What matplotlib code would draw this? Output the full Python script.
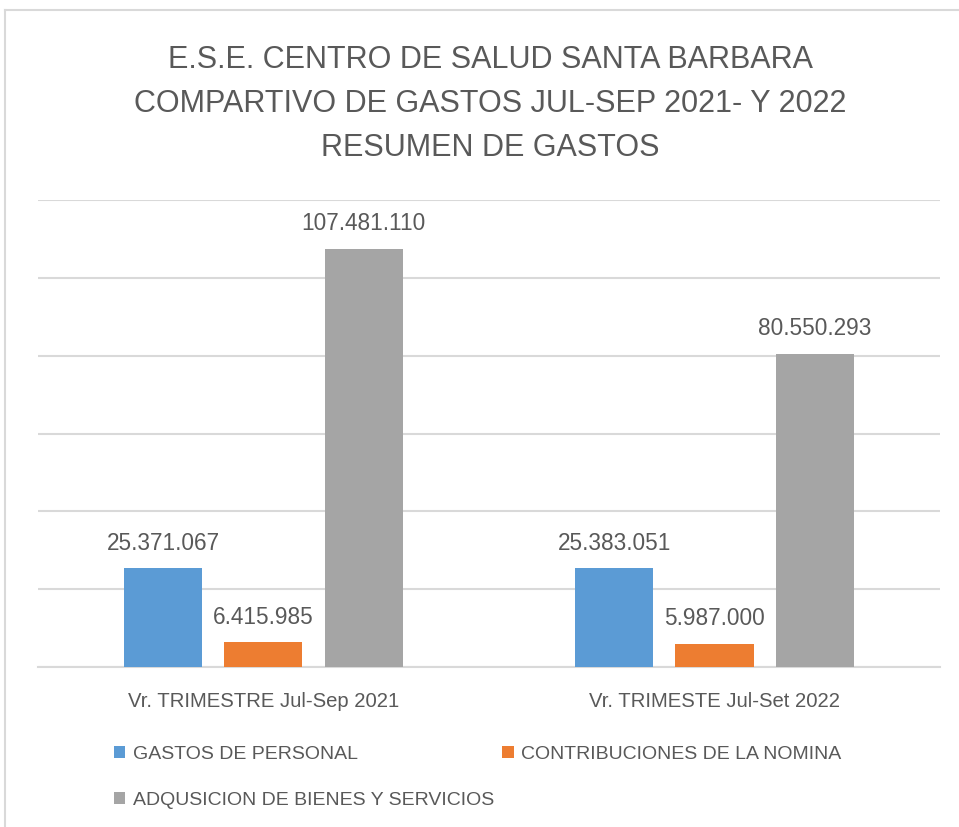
import matplotlib.pyplot as plt
from matplotlib.lines import Line2D
import numpy as np

plt.rcParams['font.family'] = ['Liberation Sans', 'DejaVu Sans']

TITLE_LINES = ["E.S.E. CENTRO DE SALUD SANTA BARBARA",
               "COMPARTIVO DE GASTOS JUL-SEP 2021- Y 2022",
               "RESUMEN DE GASTOS"]
PERIODS = ["Vr. TRIMESTRE Jul-Sep 2021", "Vr. TRIMESTE Jul-Set 2022"]
SERIES = ["GASTOS DE PERSONAL", "CONTRIBUCIONES DE LA NOMINA",
          "ADQUSICION DE BIENES Y SERVICIOS"]
GASTOS_PERSONAL = [25371067, 25383051]
CONTRIBUCIONES = [6415985, 5987000]
ADQUISICION = [107481110, 80550293]
COLORS = ['#5B9BD5', '#ED7D31', '#A5A5A5']
TEXT_COLOR = '#595959'
GRID_COLOR = '#D9D9D9'


def fmt(value):
    """Format a number with dots as thousands separators."""
    return "{:,}".format(value).replace(",", ".")


fig = plt.figure(figsize=(9.59, 8.27), dpi=100)
ax = fig.add_axes([0.0396, 0.1935, 0.9406, 0.5646])

x = np.arange(len(PERIODS))
width = 0.173
offset = 0.222
handles = []
for i, (name, values) in enumerate(zip(SERIES, [GASTOS_PERSONAL, CONTRIBUCIONES, ADQUISICION])):
    pos = x + (i - 1) * offset
    bars = ax.bar(pos, values, width, color=COLORS[i], label=name, zorder=3)
    handles.append(bars)
    for xp, v in zip(pos, values):
        ax.annotate(fmt(v), xy=(xp, v), xytext=(0, 18), textcoords='offset points',
                    ha='center', va='center', fontsize=16.3, color=TEXT_COLOR)

ax.set_xlim(-0.5, 1.5)
ax.set_ylim(0, 120000000)
ax.set_yticks(np.arange(0, 120000001, 20000000))
ax.yaxis.grid(True, color=GRID_COLOR, linewidth=1.5, zorder=0)
ax.set_yticklabels([])
ax.tick_params(axis='y', length=0)
ax.set_xticks(x)
ax.set_xticklabels(PERIODS, fontsize=14.6, color=TEXT_COLOR)
ax.tick_params(axis='x', length=0, pad=18)
for side in ['top', 'right', 'left']:
    ax.spines[side].set_visible(False)
ax.spines['bottom'].set_color(GRID_COLOR)
ax.spines['bottom'].set_linewidth(1.5)

for y, line in zip([827 - 68, 827 - 112, 827 - 156], TITLE_LINES):
    fig.text(490 / 959, y / 827, line, ha='center', va='baseline',
             fontsize=22, color=TEXT_COLOR)

fig.legend([handles[0], handles[2], handles[1]],
           [SERIES[0], SERIES[2], SERIES[1]],
           ncol=2, loc='upper left', bbox_to_anchor=(96 / 959, 1 - 728 / 827),
           frameon=False, fontsize=14, labelcolor=TEXT_COLOR,
           handlelength=0.6, handleheight=0.6, handletextpad=0.4,
           columnspacing=0.4, labelspacing=1.5)

# light chart border (left and top edges visible)
fig.add_artist(Line2D([5 / 959, 5 / 959], [0, 1 - 10 / 827], color='#D9D9D9', lw=1.5))
fig.add_artist(Line2D([5 / 959, 1], [1 - 10 / 827, 1 - 10 / 827], color='#D9D9D9', lw=1.5))

fig.savefig('out.png', dpi=100)
